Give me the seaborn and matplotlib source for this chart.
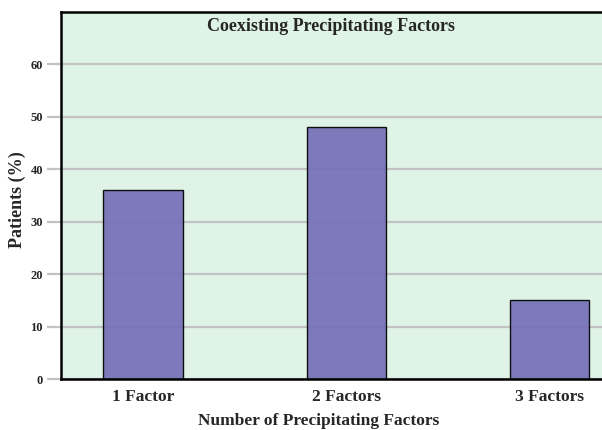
import matplotlib
matplotlib.use("Agg")
import matplotlib.pyplot as plt
import seaborn as sns
import pandas as pd

categories = ["1 Factor", "2 Factors", "3 Factors"]
patients_pct = [36, 48, 15]
y_ticks = [0, 10, 20, 30, 40, 50, 60]

df = pd.DataFrame({"Factors": categories, "Patients": patients_pct})

sns.set_theme(style="white")
plt.rcParams["font.family"] = ["Liberation Serif", "DejaVu Serif"]

fig = plt.figure(figsize=(6.02, 4.30), dpi=100)
ax = fig.add_axes([0.1013, 0.1186, 0.8987, 0.8535])
ax.set_facecolor("#dff3e7")

sns.barplot(data=df, x="Factors", y="Patients", ax=ax, color="#7570b8",
            width=0.39, edgecolor="black", linewidth=1.0, alpha=0.92,
            saturation=1)

ax.set_axisbelow(True)
ax.yaxis.grid(True, color="#c2c2c2", linewidth=1.6)
ax.xaxis.grid(False)
ax.set_ylim(0, 70)
ax.set_xlim(-0.404, 2.26)
ax.set_yticks(y_ticks)
ax.set_yticklabels([str(v) for v in y_ticks], fontsize=9, fontweight="bold")
ax.tick_params(axis="y", which="both", left=True, length=10, width=1.6,
               color="#c2c2c2", pad=3)
ax.tick_params(axis="x", length=0, pad=7)
for lbl in ax.get_xticklabels():
    lbl.set_fontsize(12.5)
    lbl.set_fontweight("bold")

for side in ["left", "bottom", "top"]:
    ax.spines[side].set_visible(True)
    ax.spines[side].set_color("black")
    ax.spines[side].set_linewidth(1.8)
ax.spines["right"].set_visible(False)

ax.set_xlabel("Number of Precipitating Factors", fontsize=12.5, fontweight="bold")
ax.xaxis.set_label_coords(0.477, -0.092)
ax.set_ylabel("Patients (%)", fontsize=13, fontweight="bold")
ax.yaxis.set_label_coords(-0.064, 0.49)
ax.set_title("Coexisting Precipitating Factors", fontsize=13, fontweight="bold",
             y=0.96, va="top")

fig.savefig("out.png", dpi=100)
